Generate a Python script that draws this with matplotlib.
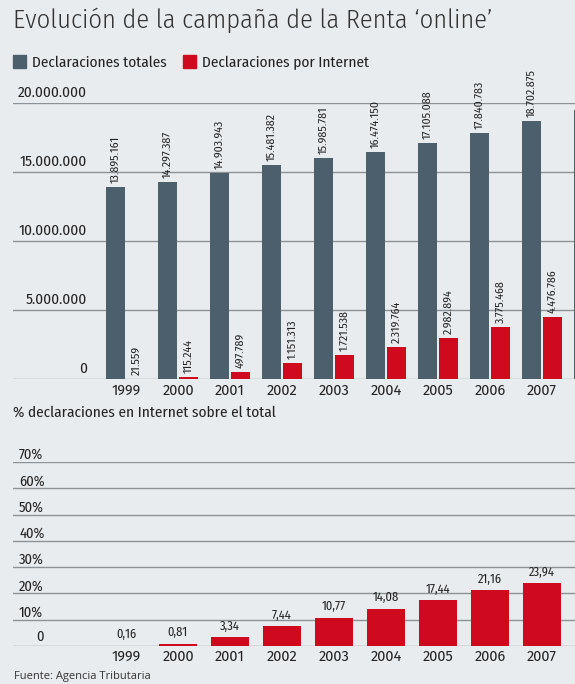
import matplotlib
matplotlib.use("Agg")
import matplotlib.pyplot as plt
import numpy as np
from matplotlib.patches import Rectangle
from matplotlib.transforms import blended_transform_factory, offset_copy

years = ["1999", "2000", "2001", "2002", "2003", "2004", "2005", "2006", "2007"]
totals = [13895161, 14297387, 14903943, 15481382, 15985781, 16474150, 17105088, 17840783, 18702875]
internet = [21559, 115244, 497789, 1151313, 1721538, 2319764, 2982894, 3775468, 4476786]
pct = [0.16, 0.81, 3.34, 7.44, 10.77, 14.08, 17.44, 21.16, 23.94]
# the 2008 total bar is cut off at the right edge of the original
next_total = 19500000

top_ticks = [0, 5000000, 10000000, 15000000, 20000000]
top_tick_labels = ["0", "5.000.000", "10.000.000", "15.000.000", "20.000.000"]
pct_ticks = [0, 10, 20, 30, 40, 50, 60, 70]
pct_tick_labels = ["0", "10%", "20%", "30%", "40%", "50%", "60%", "70%"]

BG = "#e9ecef"
DARK = "#4c5f6c"
RED = "#d00a1e"
GRID = "#8d9297"
TXT = "#222222"
COND = "Fira Sans Condensed"

W, H = 575, 684
fig = plt.figure(figsize=(W / 100, H / 100), dpi=100, facecolor=BG)


def fx(x):
    return x / W


def fy(y):
    return 1 - y / H


# title and legend
fig.text(fx(13), fy(28), "Evolución de la campaña de la Renta \u2018online\u2019", family=COND,
         weight=300, fontsize=19, color="#333333", va="baseline", ha="left")
fig.add_artist(Rectangle((fx(13), fy(68)), 13 / W, 13 / H, color=DARK, transform=fig.transFigure))
fig.text(fx(32), fy(67), "Declaraciones totales", family=COND, fontsize=11, color=TXT, va="baseline")
fig.add_artist(Rectangle((fx(183), fy(68)), 13 / W, 13 / H, color=RED, transform=fig.transFigure))
fig.text(fx(202), fy(67), "Declaraciones por Internet", family=COND, fontsize=11, color=TXT, va="baseline")

x = np.arange(len(years))
xlim = (-2.173, 8.635)

# top chart: absolute numbers
ax1 = fig.add_axes([fx(13), fy(379), (W - 13) / W, (379 - 103) / H])
ax1.set_xlim(*xlim)
ax1.set_ylim(0, 20000000)
ax1.axis("off")
for v in top_ticks:
    ax1.axhline(v, color=GRID, lw=1, zorder=0)
tr1 = blended_transform_factory(ax1.transAxes, ax1.transData)
for v, lab in zip(top_ticks, top_tick_labels):
    ax1.text((87 - 13) / (W - 13), v, lab, transform=offset_copy(tr1, fig, y=6, units="dots"),
             ha="right", va="baseline", family=COND, fontsize=11, color=TXT)

ax1.bar(x - 0.2, totals, width=0.37, color=DARK, zorder=2)
ax1.bar(x + 0.2, internet, width=0.37, color=RED, zorder=2)
ax1.bar(len(years) - 0.2, next_total, width=0.37, color=DARK, zorder=2, clip_on=False)

lab_tr1 = offset_copy(ax1.transData, fig, y=4, units="dots")
for xi, t, n in zip(x, totals, internet):
    ax1.text(xi - 0.2, t, f"{t:,}".replace(",", "."), transform=lab_tr1, rotation=90,
             ha="center", va="bottom", family=COND, fontsize=8.5, color=TXT)
    ax1.text(xi + 0.2, n, f"{n:,}".replace(",", "."), transform=lab_tr1, rotation=90,
             ha="center", va="bottom", family=COND, fontsize=8.5, color=TXT)

yr_tr1 = blended_transform_factory(ax1.transData, fig.transFigure)
for xi, yr in zip(x, years):
    ax1.text(xi, fy(391), yr, transform=yr_tr1, ha="center", va="center",
             family="Fira Sans", fontsize=10.5, color=TXT)

fig.text(fx(13), fy(413), "% declaraciones en Internet sobre el total", family=COND,
         fontsize=11, color=TXT, va="center")

# bottom chart: share of internet returns
ax2 = fig.add_axes([fx(13), fy(646), (W - 13) / W, (646 - 462) / H])
ax2.set_xlim(*xlim)
ax2.set_ylim(0, 70)
ax2.axis("off")
for v in pct_ticks:
    ax2.axhline(v, color=GRID, lw=1, zorder=0)
tr2 = blended_transform_factory(ax2.transAxes, ax2.transData)
for v, lab in zip(pct_ticks, pct_tick_labels):
    if v == 0:
        ax2.text((40 - 13) / (W - 13), v, lab, transform=offset_copy(tr2, fig, y=5, units="dots"),
                 ha="center", va="baseline", family=COND, fontsize=10.5, color=TXT)
    else:
        ax2.text((19 - 13) / (W - 13), v, lab, transform=offset_copy(tr2, fig, y=3, units="dots"),
                 ha="left", va="baseline", family=COND, fontsize=10.5, color=TXT)

ax2.bar(x, pct, width=0.73, color=RED, zorder=2)
lab_tr2 = offset_copy(ax2.transData, fig, y=5, units="dots")
for xi, p in zip(x, pct):
    ax2.text(xi, p, f"{p:.2f}".replace(".", ","), transform=lab_tr2, ha="center", va="bottom",
             family=COND, fontsize=9, color=TXT)

yr_tr2 = blended_transform_factory(ax2.transData, fig.transFigure)
for xi, yr in zip(x, years):
    ax2.text(xi, fy(657), yr, transform=yr_tr2, ha="center", va="center",
             family="Fira Sans", fontsize=10.5, color=TXT)

fig.text(fx(14), fy(677), "Fuente: Agencia Tributaria", family="Open Sans", fontsize=8,
         color="#333333", va="center")

fig.savefig("out.png", dpi=100, facecolor=BG)
